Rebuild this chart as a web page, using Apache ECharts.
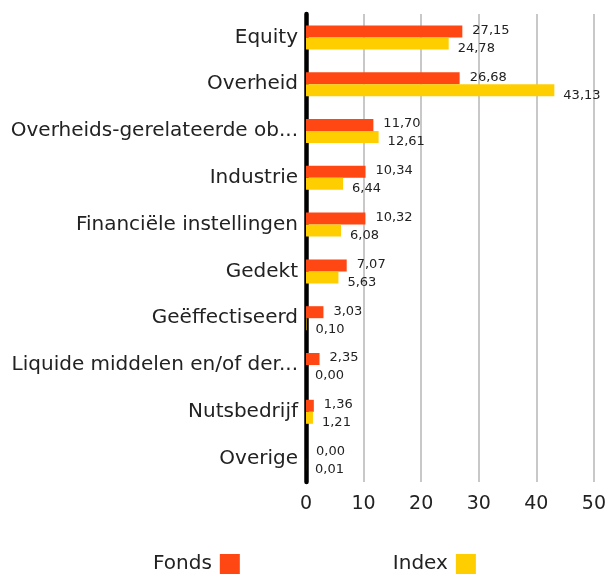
<!DOCTYPE html>
<html>
<head>
<meta charset="utf-8">
<script src="https://cdn.jsdelivr.net/npm/echarts@6/dist/echarts.min.js"></script>
<style>
  html, body { margin: 0; padding: 0; background: #fff; }
  #chart { width: 609px; height: 577px; }
</style>
</head>
<body>
<div id="chart"></div>
<script>
const categories = [
  'Equity',
  'Overheid',
  'Overheids-gerelateerde obligaties',
  'Industrie',
  'Financiële instellingen',
  'Gedekt',
  'Geëffectiseerd',
  'Liquide middelen en/of derivaten',
  'Nutsbedrijf',
  'Overige'
]
const fondsValues = [27.15, 26.68, 11.70, 10.34, 10.32, 7.07, 3.03, 2.35, 1.36, 0.00]
const indexValues = [24.78, 43.13, 12.61, 6.44, 6.08, 5.63, 0.10, 0.00, 1.21, 0.01]
const xTicks = [0, 10, 20, 30, 40, 50]

const FONT = 'DejaVu Sans'
const fmt = v => v.toFixed(2).replace('.', ',')

const chart = echarts.init(document.getElementById('chart'))
chart.setOption({
  animation: false,
  textStyle: { fontFamily: FONT, color: '#222' },
  grid: { left: 306, right: 12, top: 14, bottom: 95 },
  legend: {
    bottom: -2,
    left: 148,
    align: 'right',
    itemWidth: 20,
    itemHeight: 20,
    itemGap: 153,
    icon: 'rect',
    textStyle: { fontSize: 20, color: '#222', fontFamily: FONT, padding: [0, 3, 0, 0] },
    data: ['Fonds', 'Index']
  },
  xAxis: {
    type: 'value',
    min: xTicks[0],
    max: xTicks[xTicks.length - 1],
    interval: 10,
    axisLine: { show: false },
    axisTick: { show: false },
    axisLabel: { fontSize: 19, color: '#222', margin: 13 },
    splitLine: { lineStyle: { color: '#c8c8c8', width: 2 } }
  },
  yAxis: {
    type: 'category',
    inverse: true,
    data: categories,
    axisLine: { lineStyle: { color: '#000', width: 4.5 } },
    axisTick: { show: false },
    axisLabel: {
      fontSize: 20,
      color: '#222',
      margin: 8,
      width: 290,
      overflow: 'truncate',
      padding: [6, 0, 0, 0]
    }
  },
  series: [
    {
      name: 'Fonds',
      type: 'bar',
      data: fondsValues,
      barWidth: 12,
      barGap: '0%',
      itemStyle: { color: '#ff4713' },
      label: {
        show: true,
        position: 'right',
        distance: 10,
        offset: [0, -1],
        fontSize: 13,
        color: '#222',
        formatter: p => fmt(p.value)
      }
    },
    {
      name: 'Index',
      type: 'bar',
      data: indexValues,
      barWidth: 12,
      barGap: '0%',
      itemStyle: { color: '#ffce00' },
      label: {
        show: true,
        position: 'right',
        distance: 9,
        offset: [0, 5],
        fontSize: 13,
        color: '#222',
        formatter: p => fmt(p.value)
      }
    }
  ]
})
</script>
</body>
</html>
